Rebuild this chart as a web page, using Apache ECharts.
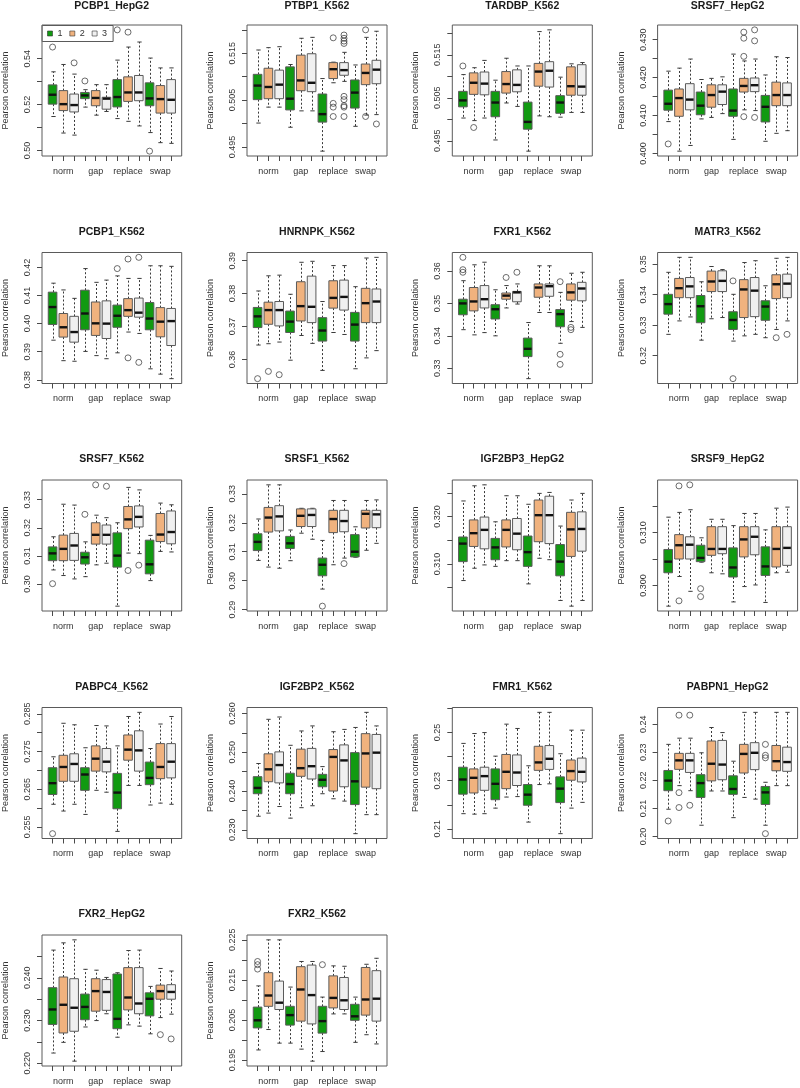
<!DOCTYPE html>
<html><head><meta charset="utf-8">
<script src="https://cdn.jsdelivr.net/npm/echarts@6/dist/echarts.min.js"></script>
<style>html,body{margin:0;padding:0;background:#fff}#c{width:800px;height:1088px}</style>
</head><body><div id="c"></div>
<script>
// ---------------- DATA ----------------
const panelTitles = ['PCBP1_HepG2','PTBP1_K562','TARDBP_K562','SRSF7_HepG2','PCBP1_K562','HNRNPK_K562','FXR1_K562','MATR3_K562','SRSF7_K562','SRSF1_K562','IGF2BP3_HepG2','SRSF9_HepG2','PABPC4_K562','IGF2BP2_K562','FMR1_K562','PABPN1_HepG2','FXR2_HepG2','FXR2_K562'];
const groups = ['norm','gap','replace','swap'];
const variants = ['1','2','3'];
const yLabel = 'Pearson correlation';

// box order: norm-1, norm-2, norm-3, gap-1, ..., swap-3 ; each [lowWhisker, Q1, median, Q3, highWhisker]
const boxes_PCBP1_HepG2 = [[0.5148,0.5202,0.5243,0.5286,0.5343],[0.5076,0.5174,0.5202,0.5261,0.5375],[0.5067,0.5168,0.5198,0.5246,0.5333],[0.5189,0.5226,0.5240,0.5253,0.5265],[0.5154,0.5195,0.5229,0.5261,0.5287],[0.5170,0.5180,0.5226,0.5232,0.5287],[0.5139,0.5190,0.5233,0.5309,0.5394],[0.5127,0.5214,0.5253,0.5321,0.5451],[0.5107,0.5217,0.5253,0.5327,0.5473],[0.5078,0.5195,0.5227,0.5295,0.5403],[0.5034,0.5163,0.5224,0.5283,0.5360],[0.5031,0.5163,0.5221,0.5309,0.5360]];
const outliers_PCBP1_HepG2 = [[1,0.5451],[3,0.5382],[4,0.5303],[7,0.5526],[8,0.5516],[10,0.4997]];

const boxes_PTBP1_K562 = [[0.5001,0.5051,0.5081,0.5105,0.5157],[0.5035,0.5053,0.5078,0.5118,0.5162],[0.5035,0.5053,0.5083,0.5114,0.5164],[0.4992,0.5029,0.5053,0.5121,0.5126],[0.5027,0.5070,0.5092,0.5146,0.5182],[0.5027,0.5068,0.5087,0.5149,0.5184],[0.4941,0.5003,0.5020,0.5063,0.5096],[0.5087,0.5096,0.5116,0.5130,0.5131],[0.5090,0.5103,0.5114,0.5130,0.5152],[0.4994,0.5033,0.5066,0.5093,0.5125],[0.5018,0.5083,0.5108,0.5127,0.5184],[0.5019,0.5085,0.5115,0.5135,0.5197]];
const outliers_PTBP1_K562 = [[8,0.5183],[8,0.5043],[8,0.5035],[8,0.5015],[9,0.5189],[9,0.5182],[9,0.5176],[9,0.5171],[9,0.5058],[9,0.5051],[9,0.5038],[9,0.5035],[9,0.5015],[11,0.5200],[11,0.5015],[12,0.4999]];

const boxes_TARDBP_K562 = [[0.5003,0.5029,0.5044,0.5065,0.5104],[0.4997,0.5058,0.5085,0.5108,0.5120],[0.5003,0.5057,0.5083,0.5110,0.5137],[0.4952,0.5006,0.5039,0.5065,0.5091],[0.5038,0.5061,0.5082,0.5111,0.5142],[0.5030,0.5064,0.5080,0.5115,0.5124],[0.4926,0.4977,0.4994,0.5040,0.5124],[0.5008,0.5077,0.5111,0.5130,0.5204],[0.5006,0.5075,0.5113,0.5134,0.5208],[0.5005,0.5014,0.5039,0.5055,0.5098],[0.5016,0.5056,0.5077,0.5122,0.5129],[0.5016,0.5056,0.5076,0.5127,0.5132]];
const outliers_TARDBP_K562 = [[1,0.5124],[2,0.4981]];

const boxes_SRSF7_HepG2 = [[0.4084,0.4114,0.4131,0.4167,0.4217],[0.4006,0.4098,0.4146,0.4170,0.4225],[0.4021,0.4115,0.4142,0.4184,0.4249],[0.4091,0.4102,0.4126,0.4162,0.4195],[0.4095,0.4122,0.4154,0.4181,0.4198],[0.4105,0.4129,0.4163,0.4181,0.4202],[0.4037,0.4098,0.4113,0.4170,0.4262],[0.4115,0.4162,0.4178,0.4198,0.4244],[0.4113,0.4163,0.4180,0.4199,0.4249],[0.4032,0.4083,0.4123,0.4153,0.4207],[0.4053,0.4126,0.4154,0.4188,0.4255],[0.4060,0.4126,0.4154,0.4186,0.4253]];
const outliers_SRSF7_HepG2 = [[1,0.4025],[8,0.4320],[8,0.4304],[8,0.4256],[8,0.4097],[9,0.4326],[9,0.4297],[9,0.4095]];

const boxes_PCBP1_K562 = [[0.3941,0.3997,0.4059,0.4112,0.4144],[0.3868,0.3952,0.3987,0.4036,0.4120],[0.3866,0.3934,0.3970,0.4026,0.4090],[0.3901,0.3978,0.4036,0.4119,0.4196],[0.3886,0.3958,0.4001,0.4077,0.4147],[0.3875,0.3947,0.4000,0.4081,0.4155],[0.3896,0.3987,0.4028,0.4066,0.4170],[0.3970,0.4026,0.4048,0.4089,0.4161],[0.3965,0.4023,0.4039,0.4091,0.4161],[0.3839,0.3978,0.4018,0.4075,0.4206],[0.3820,0.3953,0.4007,0.4057,0.4206],[0.3804,0.3922,0.4009,0.4054,0.4204]];
const outliers_PCBP1_K562 = [[7,0.4196],[8,0.4230],[8,0.3878],[9,0.4236],[9,0.3862]];

const boxes_HNRNPK_K562 = [[0.3644,0.3697,0.3731,0.3758,0.3808],[0.3648,0.3707,0.3750,0.3774,0.3854],[0.3653,0.3702,0.3750,0.3776,0.3856],[0.3598,0.3682,0.3715,0.3747,0.3798],[0.3673,0.3717,0.3762,0.3836,0.3895],[0.3649,0.3712,0.3760,0.3853,0.3898],[0.3567,0.3656,0.3688,0.3727,0.3776],[0.3682,0.3756,0.3787,0.3839,0.3885],[0.3676,0.3750,0.3790,0.3841,0.3885],[0.3572,0.3656,0.3706,0.3743,0.3821],[0.3605,0.3712,0.3771,0.3816,0.3908],[0.3627,0.3712,0.3776,0.3814,0.3910]];
const outliers_HNRNPK_K562 = [[1,0.3542],[2,0.3564],[3,0.3554]];

const boxes_FXR1_K562 = [[0.3419,0.3465,0.3500,0.3513,0.3570],[0.3403,0.3477,0.3506,0.3549,0.3619],[0.3410,0.3486,0.3513,0.3555,0.3627],[0.3400,0.3452,0.3482,0.3496,0.3542],[0.3486,0.3513,0.3524,0.3532,0.3555],[0.3498,0.3505,0.3534,0.3537,0.3560],[0.3268,0.3336,0.3360,0.3393,0.3441],[0.3472,0.3519,0.3549,0.3560,0.3616],[0.3472,0.3522,0.3553,0.3560,0.3616],[0.3377,0.3428,0.3467,0.3481,0.3534],[0.3444,0.3510,0.3534,0.3560,0.3593],[0.3426,0.3508,0.3546,0.3565,0.3596]];
const outliers_FXR1_K562 = [[1,0.3642],[1,0.3604],[1,0.3596],[5,0.3580],[6,0.3596],[10,0.3567],[10,0.3343],[10,0.3312],[11,0.3426],[11,0.3419]];

const boxes_MATR3_K562 = [[0.3270,0.3336,0.3369,0.3401,0.3473],[0.3314,0.3390,0.3421,0.3453,0.3522],[0.3327,0.3390,0.3427,0.3456,0.3522],[0.3251,0.3308,0.3362,0.3397,0.3442],[0.3321,0.3410,0.3443,0.3477,0.3492],[0.3325,0.3410,0.3445,0.3478,0.3482],[0.3248,0.3286,0.3317,0.3344,0.3401],[0.3265,0.3325,0.3417,0.3449,0.3505],[0.3270,0.3328,0.3413,0.3456,0.3511],[0.3259,0.3316,0.3361,0.3380,0.3429],[0.3286,0.3387,0.3434,0.3465,0.3519],[0.3314,0.3390,0.3436,0.3467,0.3522]];
const outliers_MATR3_K562 = [[7,0.3445],[7,0.3125],[11,0.3259],[12,0.3270]];

const boxes_SRSF7_K562 = [[0.3050,0.3083,0.3109,0.3132,0.3168],[0.3030,0.3083,0.3125,0.3174,0.3284],[0.3018,0.3084,0.3137,0.3180,0.3281],[0.3026,0.3071,0.3095,0.3113,0.3150],[0.3068,0.3142,0.3175,0.3218,0.3245],[0.3074,0.3142,0.3175,0.3210,0.3236],[0.2921,0.3060,0.3101,0.3182,0.3218],[0.3110,0.3197,0.3230,0.3276,0.3344],[0.3108,0.3203,0.3239,0.3278,0.3335],[0.3012,0.3036,0.3070,0.3156,0.3173],[0.3116,0.3151,0.3176,0.3251,0.3288],[0.3114,0.3143,0.3185,0.3260,0.3282]];
const outliers_SRSF7_K562 = [[1,0.3001],[4,0.3248],[5,0.3353],[6,0.3348],[8,0.3048],[9,0.3067]];

const boxes_SRSF1_K562 = [[0.3070,0.3104,0.3134,0.3162,0.3213],[0.3047,0.3168,0.3218,0.3253,0.3331],[0.3043,0.3172,0.3222,0.3259,0.3331],[0.3069,0.3111,0.3129,0.3153,0.3175],[0.3164,0.3187,0.3224,0.3248,0.3250],[0.3143,0.3187,0.3227,0.3248,0.3250],[0.2971,0.3017,0.3055,0.3078,0.3139],[0.3055,0.3166,0.3213,0.3243,0.3277],[0.3078,0.3169,0.3206,0.3243,0.3277],[0.3081,0.3082,0.3100,0.3159,0.3186],[0.3105,0.3182,0.3231,0.3243,0.3277],[0.3129,0.3183,0.3229,0.3243,0.3279]];
const outliers_SRSF1_K562 = [[7,0.2912],[9,0.3059]];

const boxes_IGF2BP3_HepG2 = [[0.3065,0.3105,0.3143,0.3157,0.3233],[0.3091,0.3137,0.3165,0.3193,0.3265],[0.3098,0.3132,0.3172,0.3199,0.3267],[0.3095,0.3109,0.3135,0.3154,0.3189],[0.3107,0.3136,0.3172,0.3193,0.3244],[0.3107,0.3130,0.3164,0.3196,0.3244],[0.3058,0.3095,0.3125,0.3159,0.3226],[0.3112,0.3147,0.3203,0.3235,0.3249],[0.3109,0.3143,0.3203,0.3243,0.3251],[0.3023,0.3075,0.3105,0.3141,0.3180],[0.3011,0.3116,0.3173,0.3209,0.3235],[0.3023,0.3127,0.3174,0.3210,0.3249]];
const outliers_IGF2BP3_HepG2 = [];

const boxes_SRSF9_HepG2 = [[0.2961,0.3024,0.3045,0.3068,0.3129],[0.3017,0.3050,0.3076,0.3096,0.3138],[0.2989,0.3050,0.3077,0.3092,0.3143],[0.3044,0.3045,0.3052,0.3076,0.3090],[0.3024,0.3057,0.3069,0.3111,0.3125],[0.3022,0.3060,0.3069,0.3111,0.3125],[0.2969,0.3016,0.3034,0.3071,0.3113],[0.2998,0.3054,0.3087,0.3111,0.3136],[0.3001,0.3058,0.3092,0.3111,0.3136],[0.2968,0.3019,0.3036,0.3073,0.3105],[0.3024,0.3035,0.3069,0.3111,0.3146],[0.3025,0.3038,0.3071,0.3111,0.3148]];
const outliers_SRSF9_HepG2 = [[2,0.3188],[2,0.2971],[3,0.3190],[4,0.2994],[4,0.2979]];

const boxes_PABPC4_K562 = [[0.2610,0.2636,0.2666,0.2707,0.2736],[0.2592,0.2671,0.2709,0.2740,0.2825],[0.2610,0.2671,0.2717,0.2744,0.2821],[0.2583,0.2647,0.2689,0.2707,0.2760],[0.2647,0.2698,0.2731,0.2765,0.2819],[0.2642,0.2696,0.2723,0.2758,0.2818],[0.2538,0.2598,0.2641,0.2692,0.2765],[0.2660,0.2727,0.2755,0.2794,0.2843],[0.2660,0.2698,0.2753,0.2805,0.2854],[0.2608,0.2662,0.2680,0.2722,0.2758],[0.2613,0.2678,0.2709,0.2771,0.2823],[0.2610,0.2680,0.2723,0.2771,0.2843]];
const outliers_PABPC4_K562 = [[1,0.2532]];

const boxes_IGF2BP2_K562 = [[0.2335,0.2393,0.2408,0.2437,0.2471],[0.2343,0.2424,0.2456,0.2496,0.2585],[0.2360,0.2421,0.2467,0.2501,0.2591],[0.2330,0.2393,0.2418,0.2446,0.2518],[0.2357,0.2438,0.2459,0.2508,0.2555],[0.2362,0.2431,0.2464,0.2510,0.2568],[0.2393,0.2411,0.2429,0.2443,0.2463],[0.2380,0.2400,0.2488,0.2507,0.2553],[0.2374,0.2411,0.2479,0.2519,0.2559],[0.2290,0.2365,0.2425,0.2499,0.2564],[0.2339,0.2410,0.2497,0.2548,0.2603],[0.2339,0.2406,0.2499,0.2546,0.2568]];
const outliers_IGF2BP2_K562 = [];

const boxes_FMR1_K562 = [[0.2163,0.2244,0.2305,0.2356,0.2455],[0.2161,0.2249,0.2312,0.2349,0.2496],[0.2163,0.2260,0.2319,0.2356,0.2500],[0.2186,0.2221,0.2287,0.2349,0.2402],[0.2232,0.2267,0.2337,0.2409,0.2535],[0.2234,0.2280,0.2334,0.2407,0.2517],[0.2128,0.2198,0.2242,0.2284,0.2362],[0.2284,0.2343,0.2376,0.2443,0.2584],[0.2287,0.2347,0.2391,0.2446,0.2584],[0.2080,0.2209,0.2267,0.2316,0.2412],[0.2186,0.2302,0.2340,0.2386,0.2510],[0.2210,0.2295,0.2337,0.2394,0.2510]];
const outliers_FMR1_K562 = [];

const boxes_PABPN1_HepG2 = [[0.2097,0.2163,0.2199,0.2235,0.2328],[0.2181,0.2239,0.2271,0.2296,0.2350],[0.2163,0.2228,0.2271,0.2296,0.2350],[0.2040,0.2139,0.2190,0.2220,0.2298],[0.2162,0.2198,0.2259,0.2340,0.2388],[0.2162,0.2202,0.2256,0.2342,0.2370],[0.2067,0.2150,0.2169,0.2216,0.2268],[0.2139,0.2226,0.2294,0.2328,0.2442],[0.2133,0.2238,0.2298,0.2334,0.2442],[0.2040,0.2114,0.2157,0.2178,0.2193],[0.2181,0.2234,0.2268,0.2324,0.2442],[0.2181,0.2232,0.2265,0.2318,0.2442]];
const outliers_PABPN1_HepG2 = [[1,0.2055],[2,0.2432],[2,0.2156],[2,0.2103],[3,0.2432],[3,0.2111],[10,0.2328],[10,0.2289],[10,0.2280],[10,0.2010]];

const boxes_FXR2_HepG2 = [[0.2224,0.2291,0.2326,0.2377,0.2465],[0.2249,0.2271,0.2337,0.2402,0.2482],[0.2205,0.2275,0.2330,0.2398,0.2489],[0.2285,0.2302,0.2332,0.2362,0.2420],[0.2300,0.2322,0.2369,0.2398,0.2418],[0.2316,0.2324,0.2367,0.2396,0.2401],[0.2261,0.2281,0.2304,0.2409,0.2412],[0.2290,0.2325,0.2354,0.2424,0.2464],[0.2287,0.2316,0.2340,0.2424,0.2465],[0.2269,0.2311,0.2351,0.2365,0.2380],[0.2307,0.2350,0.2369,0.2383,0.2422],[0.2315,0.2350,0.2367,0.2384,0.2416]];
const outliers_FXR2_HepG2 = [[11,0.2267],[12,0.2257]];

const boxes_FXR2_K562 = [[0.1975,0.2030,0.2049,0.2082,0.2135],[0.2026,0.2084,0.2111,0.2168,0.2250],[0.1992,0.2076,0.2093,0.2147,0.2250],[0.1992,0.2037,0.2062,0.2084,0.2132],[0.1977,0.2047,0.2126,0.2183,0.2196],[0.1947,0.2040,0.2112,0.2187,0.2196],[0.1971,0.2017,0.2047,0.2084,0.2107],[0.2065,0.2080,0.2105,0.2160,0.2185],[0.2065,0.2076,0.2099,0.2156,0.2184],[0.1994,0.2049,0.2059,0.2089,0.2107],[0.2013,0.2062,0.2101,0.2181,0.2189],[0.1990,0.2047,0.2103,0.2173,0.2204]];
const outliers_FXR2_K562 = [[1,0.2196],[1,0.2188],[1,0.2177],[7,0.2188]];

// y-axis tick marks and the tick labels that are printed
const yTicks = [
 ['0.50','0.51','0.52','0.53','0.54'],
 ['0.495','0.500','0.505','0.510','0.515','0.520'],
 ['0.495','0.500','0.505','0.510','0.515','0.520'],
 ['0.400','0.405','0.410','0.415','0.420','0.425','0.430'],
 ['0.38','0.39','0.40','0.41','0.42'],
 ['0.36','0.37','0.38','0.39'],
 ['0.33','0.34','0.35','0.36'],
 ['0.32','0.33','0.34','0.35'],
 ['0.30','0.31','0.32','0.33'],
 ['0.29','0.30','0.31','0.32','0.33'],
 ['0.300','0.305','0.310','0.315','0.320','0.325'],
 ['0.300','0.305','0.310','0.315','0.320'],
 ['0.255','0.260','0.265','0.270','0.275','0.280','0.285'],
 ['0.230','0.235','0.240','0.245','0.250','0.255','0.260'],
 ['0.21','0.22','0.23','0.24','0.25','0.26'],
 ['0.20','0.21','0.22','0.23','0.24'],
 ['0.220','0.225','0.230','0.235','0.240','0.245'],
 ['0.195','0.200','0.205','0.210','0.215','0.220','0.225']
];
const yTickLabels = [
 ['0.50','0.52','0.54'],
 ['0.495','0.505','0.515'],
 ['0.495','0.505','0.515'],
 ['0.400','0.410','0.420','0.430'],
 ['0.38','0.39','0.40','0.41','0.42'],
 ['0.36','0.37','0.38','0.39'],
 ['0.33','0.34','0.35','0.36'],
 ['0.32','0.33','0.34','0.35'],
 ['0.30','0.31','0.32','0.33'],
 ['0.29','0.30','0.31','0.32','0.33'],
 ['0.300','0.310','0.320'],
 ['0.300','0.310','0.320'],
 ['0.255','0.265','0.275','0.285'],
 ['0.230','0.240','0.250','0.260'],
 ['0.21','0.23','0.25'],
 ['0.20','0.21','0.22','0.23','0.24'],
 ['0.220','0.230','0.240'],
 ['0.195','0.205','0.215','0.225']
];

const panelBoxes = [boxes_PCBP1_HepG2,boxes_PTBP1_K562,boxes_TARDBP_K562,boxes_SRSF7_HepG2,boxes_PCBP1_K562,boxes_HNRNPK_K562,boxes_FXR1_K562,boxes_MATR3_K562,boxes_SRSF7_K562,boxes_SRSF1_K562,boxes_IGF2BP3_HepG2,boxes_SRSF9_HepG2,boxes_PABPC4_K562,boxes_IGF2BP2_K562,boxes_FMR1_K562,boxes_PABPN1_HepG2,boxes_FXR2_HepG2,boxes_FXR2_K562];
const panelOutliers = [outliers_PCBP1_HepG2,outliers_PTBP1_K562,outliers_TARDBP_K562,outliers_SRSF7_HepG2,outliers_PCBP1_K562,outliers_HNRNPK_K562,outliers_FXR1_K562,outliers_MATR3_K562,outliers_SRSF7_K562,outliers_SRSF1_K562,outliers_IGF2BP3_HepG2,outliers_SRSF9_HepG2,outliers_PABPC4_K562,outliers_IGF2BP2_K562,outliers_FMR1_K562,outliers_PABPN1_HepG2,outliers_FXR2_HepG2,outliers_FXR2_K562];

// ---------------- STYLE / LAYOUT ----------------
const fills = ['#119a11', '#f0b27e', '#f0f0f0'];
const FONT = 'Liberation Sans, Arial, Helvetica, sans-serif';
const COL0 = 41.7, COLSTEP = 205.3, ROW0 = 25, ROWSTEP = 227.5, PW = 140, PH = 131;
const BOXW = 0.8, STAPLE = 0.4;

function renderBox(params, api) {
  const x = api.value(0);
  const lo = api.value(1), q1 = api.value(2), med = api.value(3), q3 = api.value(4), hi = api.value(5);
  const pTL = api.coord([x - BOXW / 2, q3]);
  const pBR = api.coord([x + BOXW / 2, q1]);
  const pM = api.coord([x, med]);
  const pLo = api.coord([x, lo]);
  const pHi = api.coord([x, hi]);
  const sw = api.size([STAPLE, 0])[0];
  const cx = Math.round(pM[0]) + 0.5;
  const color = api.visual('color');
  const dash = { stroke: '#3a3a3a', lineWidth: 1, lineDash: [2, 2] };
  const solid = { stroke: '#3a3a3a', lineWidth: 1 };
  return {
    type: 'group',
    children: [
      { type: 'line', shape: { x1: cx, y1: pTL[1], x2: cx, y2: pHi[1] }, style: dash },
      { type: 'line', shape: { x1: cx, y1: pBR[1], x2: cx, y2: pLo[1] }, style: dash },
      { type: 'line', shape: { x1: cx - sw / 2, y1: pHi[1], x2: cx + sw / 2, y2: pHi[1] }, style: solid },
      { type: 'line', shape: { x1: cx - sw / 2, y1: pLo[1], x2: cx + sw / 2, y2: pLo[1] }, style: solid },
      { type: 'rect', shape: { x: pTL[0], y: pTL[1], width: pBR[0] - pTL[0], height: pBR[1] - pTL[1] },
        style: { fill: color, stroke: '#5a5a5a', lineWidth: 1 } },
      { type: 'line', shape: { x1: pTL[0] + 0.5, y1: pM[1], x2: pBR[0] - 0.5, y2: pM[1] },
        style: { stroke: '#111', lineWidth: 2.4 } }
    ]
  };
}

const grids = [], xAxes = [], yAxes = [], series = [], titles = [];
panelTitles.forEach((name, p) => {
  const r = Math.floor(p / 4), c = p % 4;
  const left = COL0 + c * COLSTEP, top = ROW0 + r * ROWSTEP;
  grids.push({ left: left, top: top, width: PW, height: PH, show: true, borderColor: '#5a5a5a', borderWidth: 1, backgroundColor: 'transparent' });
  titles.push({ text: name, left: left + PW / 2, top: Math.max(1, top - 26), textAlign: 'center', padding: 0,
    textStyle: { fontFamily: FONT, fontSize: 10.5, fontWeight: 'bold', color: '#1a1a1a' } });

  const boxes = panelBoxes[p], outs = panelOutliers[p];
  let vals = [];
  boxes.forEach(b => vals.push(...b));
  outs.forEach(o => vals.push(o[1]));
  const dmin = Math.min(...vals), dmax = Math.max(...vals), ext = (dmax - dmin) * 0.04;

  xAxes.push({
    gridIndex: p, type: 'value', min: 0.02, max: 12.98,
    axisLine: { show: false }, splitLine: { show: false },
    axisTick: { show: true, length: 5, customValues: [1,2,3,4,5,6,7,8,9,10,11,12], lineStyle: { color: '#4a4a4a' } },
    axisLabel: { customValues: [2,5,8,11], margin: 11, fontSize: 9, fontFamily: FONT, color: '#333',
      formatter: v => groups[Math.round((v - 2) / 3)] }
  });
  const tickNums = yTicks[p].map(parseFloat);
  const labNums = yTickLabels[p].map(parseFloat);
  yAxes.push({
    gridIndex: p, type: 'value', min: dmin - ext, max: dmax + ext,
    axisLine: { show: false }, splitLine: { show: false },
    axisTick: { show: true, length: 5, customValues: tickNums, lineStyle: { color: '#4a4a4a' } },
    axisLabel: { customValues: labNums, rotate: 90, margin: 10, fontSize: 9, fontFamily: FONT, color: '#333',
      formatter: v => { const i = labNums.findIndex(t => Math.abs(t - v) < 1e-9); return i >= 0 ? yTickLabels[p][i] : ''; } },
    name: yLabel, nameLocation: 'middle', nameRotate: 90, nameGap: 32,
    nameTextStyle: { fontSize: 9, fontFamily: FONT, color: '#333' }
  });

  variants.forEach((vname, v) => {
    const data = [];
    groups.forEach((g, gi) => {
      const b = boxes[gi * 3 + v];
      data.push([gi * 3 + v + 1, b[0], b[1], b[2], b[3], b[4]]);
    });
    series.push({
      name: vname, type: 'custom', xAxisIndex: p, yAxisIndex: p,
      itemStyle: { color: fills[v] }, renderItem: renderBox,
      encode: { x: 0, y: [1, 2, 3, 4, 5] }, data: data, animation: false, z: 2
    });
  });
  series.push({
    name: 'outliers', type: 'scatter', xAxisIndex: p, yAxisIndex: p,
    symbol: 'circle', symbolSize: 6,
    itemStyle: { color: 'rgba(0,0,0,0)', borderColor: '#333', borderWidth: 0.9 },
    data: outs.map(o => [o[0], o[1]]), animation: false, z: 3, silent: true
  });
});

const chart = echarts.init(document.getElementById('c'), null, { renderer: 'canvas' });
chart.setOption({
  animation: false,
  backgroundColor: '#fff',
  title: titles,
  legend: {
    data: variants, left: COL0 + 0.5, top: ROW0 + 0.5, orient: 'horizontal',
    itemWidth: 5, itemHeight: 5, itemGap: 7, icon: 'rect',
    padding: [3, 6, 3, 5], borderColor: '#5a5a5a', borderWidth: 1, backgroundColor: '#fff',
    itemStyle: { borderColor: '#333', borderWidth: 0.6 },
    textStyle: { fontSize: 9, fontFamily: FONT, color: '#333', lineHeight: 10 },
    selectedMode: false
  },
  grid: grids, xAxis: xAxes, yAxis: yAxes, series: series
});
</script></body></html>
